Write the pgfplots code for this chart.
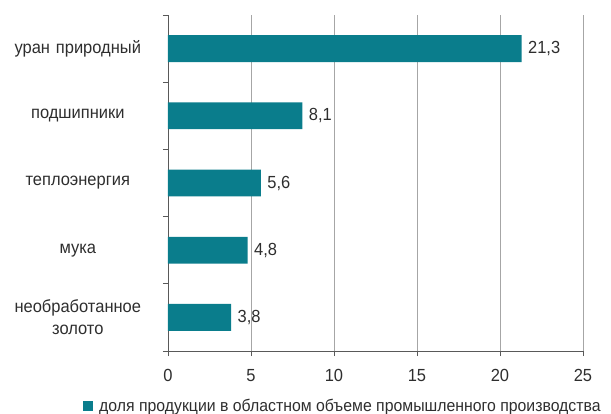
\documentclass[border=0pt]{standalone}
\usepackage{fontspec}
\setmainfont{Liberation Sans}[FakeStretch=0.94]
\usepackage{pgfplots}
\pgfplotsset{compat=1.18}
\definecolor{barc}{HTML}{0A7D8C}
\definecolor{txt}{HTML}{2E2E2E}
\definecolor{gridc}{HTML}{A6A6A6}
\definecolor{axc}{HTML}{595959}
\begin{document}
\begin{tikzpicture}[font=\fontsize{17.6}{21}\selectfont]
\begin{axis}[name=ax, scale only axis, width=415bp, height=336bp,
 xbar, bar width=0.4,
 xmin=0, xmax=25, ymin=-0.5, ymax=4.5, y dir=reverse,
 axis x line*=bottom, axis y line*=left,
 axis line style={axc, line width=0.8pt},
 xtick={0,5,...,25}, xmajorgrids, grid style={gridc, line width=0.8pt},
 tick align=outside, major tick length=5bp, tick style={axc, line width=0.8pt},
 ytick={-0.5,0.5,...,4.5}, yticklabels={},
 extra y ticks={0,1,2,3,4},
 extra y tick labels={уран природный, подшипники, теплоэнергия, мука, {необработанное\\золото}},
 extra y tick style={major tick length=0pt, yticklabel style={text width=150bp, align=center, anchor=east, inner sep=0pt, xshift=-15bp}},
 tick label style={text=txt, font=\fontsize{17.6}{22}\selectfont},
 xticklabel style={yshift=-10bp},
 /pgf/number format/assume math mode=true,
 nodes near coords,
 nodes near coords style={text=txt, anchor=west, xshift=3bp, font=\fontsize{17.6}{21}\selectfont,
   /pgf/number format/.cd, use comma, fixed, fixed zerofill, precision=1, assume math mode=true},
 legend style={at={(-0.212,-0.164)}, anchor=west, draw=none, fill=none, text=txt, font=\fontsize{16.9}{20}\selectfont},
 legend cell align=left,
]
\addplot[fill=barc, draw=none, legend image code/.code={\fill[barc] (0bp,-5bp) rectangle (10bp,5bp); \path (14bp,0bp);}]
  coordinates {(21.3,0) (8.1,1) (5.6,2) (4.8,3) (3.8,4)};
\addlegendentry{доля продукции в областном объеме промышленного производства}
\end{axis}
\pgfresetboundingbox
\path ([xshift=-168bp,yshift=-63bp]ax.south west) rectangle ([xshift=28bp,yshift=15bp]ax.north east);
\end{tikzpicture}
\end{document}
